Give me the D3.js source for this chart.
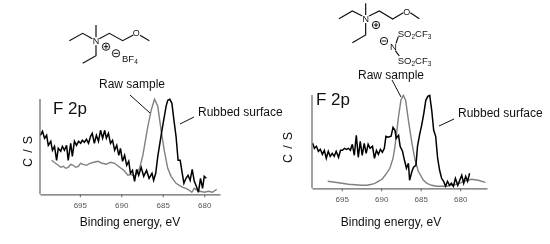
<!DOCTYPE html>
<html>
<head>
<meta charset="utf-8">
<script src="https://cdnjs.cloudflare.com/ajax/libs/d3/7.8.5/d3.min.js"></script>
<style>
body { margin: 0; background: #fff; }
text { font-family: "Liberation Sans", Arial, sans-serif; fill: #111; }
</style>
</head>
<body>
<div id="viz"></div>
<script>
const width = 550;
const height = 244;

const tickValues = [695, 690, 685, 680];

// left panel (binding energy eV, counts in arbitrary units)
const leftRubbedBE = [699.75,699.5,699.25,699,698.8,698.5,698.3,698.05,697.8,697.6,697.3,697.1,696.85,696.6,696.4,696.1,695.9,695.65,695.4,695.15,694.9,694.7,694.45,694.2,693.95,693.7,693.5,693.25,693,692.75,692.5,692.25,692,691.8,691.55,691.3,691.05,690.8,690.55,690.3,690.1,689.85,689.6,689.35,689.1,688.9,688.65,688.4,688.15,687.9,687.6,687.3,686.95,686.65,686.3,686.1,685.85,685.6,685.35,685.1,684.85,684.6,684.4,684.15,683.9,683.65,683.4,683.15,682.9,682.65,682.45,682.2,681.95,681.7,681.45,681.2,680.95,680.7,680.45,680.2,680,679.75];
const leftRubbedCS = [59,63,56,59,49,53,44,48,34,46,43,48,44,49,34,51,38,53,49,53,51,54,52,55,51,58,61,51,59,53,64,56,64,56,61,51,54,44,49,39,46,33,39,29,33,21,24,13,25,19,27,18,24,16,21,14,21,38,51,64,76,88,94,95,91,74,58,34,34,21,11,16,19,14,25,13,8,2,16,6,18,16];
const leftRawBE = [698.4,698.1,697.6,697.3,697,696.7,696.4,696.1,695.8,695.5,695.2,694.9,694.6,694.2,693.8,693.3,692.8,692.3,691.8,691.3,690.8,690.5,690.2,689.7,689.2,688.8,688.4,688.1,687.8,687.4,686.8,686.4,686,685.6,685.2,684.8,684.4,684,683.4,683,682.6,682.2,681.8,681.5,681.2,680.8,680.5,680,679.5,679,678.5];
const leftRawCS = [34,32,29,27,28,26,27,30,29,27,28,31,30,29,31,32,33,31,30,32,31,29,27,24,19,20,18,21,26,39,68,84,95,88,64,43,26,18,11,9,7,6,4,2,6,4,3,2,3,2,5];

// right panel
const rightRubbedBE = [698.67,698.46,698.2,697.95,697.7,697.45,697.2,696.95,696.7,696.45,696.2,695.95,695.7,695.4,695.15,694.9,694.65,694.4,694.15,693.9,693.65,693.4,693.15,692.9,692.65,692.4,692.15,691.9,691.65,691.4,691.1,690.85,690.6,690.35,690.1,689.85,689.6,689.4,689.1,688.75,688.5,688.25,688.1,687.8,687.6,687.3,687.05,686.8,686.55,686.4,686.1,685.9,685.6,685.4,685.1,684.9,684.6,684.35,684.1,683.85,683.6,683.35,683.1,682.85,682.6,682.35,682.1,681.85,681.6,681.35,681.1,680.85,680.6,680.3,680.05,679.8,679.55,679.3,679.05,678.8];
const rightRubbedCS = [45,40,42,37,39,34,38,30,37,32,35,32,37,31,38,38,40,39,40,38,44,33,53,31,47,33,45,35,44,40,42,30,38,34,39,36,40,52,51,52,61,58,50,53,42,37,28,20,25,8,17,21,23,42,55,62,75,88,92,93,78,58,52,30,18,10,7,2,7,3,5,2,10,3,8,13,5,12,7,15];
const rightRawBE = [696.77,695.85,695,694.15,693.3,692.5,691.8,691.2,690.8,690.36,689.9,689.5,688.9,688.5,688.25,687.8,687.5,687.2,686.9,686.55,686.1,685.7,685.3,684.65,684.2,683.6,683,682.35,681.7,681.1,680.4,679.8,679.1,678.55,677.7,676.8];
const rightRawCS = [7,6,5,4,3.5,3,3,4,5,7,9,13,20,30,42,72,88,93,88,68,45,28,17,8,5,3,2,2,2,3,4,6,8,9,8,6];

const panels = [
    { left: 40, right: 220, bottom: 194.3, top: 99, domain: [699.8, 678.1],
      rubbed: [leftRubbedBE, leftRubbedCS], raw: [leftRawBE, leftRawCS],
      titleX: 53, titleY: 114, ylabX: 32, ylabY: 151, tickY: 208, xlabX: 130 },
    { left: 312, right: 487, bottom: 188.3, top: 95, domain: [698.76, 676.6],
      rubbed: [rightRubbedBE, rightRubbedCS], raw: [rightRawBE, rightRawCS],
      titleX: 316, titleY: 105, ylabX: 292, ylabY: 147, tickY: 202, xlabX: 391 }
];

const svg = d3.select('#viz')
    .append('svg')
        .attr('width', width)
        .attr('height', height)
        .style('display', 'block')
        .style('filter', 'blur(0.3px)');

panels.forEach(drawPanel);
drawLabels();
drawMolecule(50, 0, [
    [[58,122],[98,100],[127,116]],
    [[138,75],[138,112]],
    [[148,116],[178,100],[218,122],[250,105]],
    [[270,106],[298,122]],
    [[138,136],[138,167],[98,190]]
], [138,132], [259,109], [168,140], [198,160]);
svg.append('text').attr('x', 50 + 216/3).attr('y', 62).attr('font-size', 9.5).html('BF<tspan font-size="6.5" dy="2">4</tspan>');

drawMolecule(320, 0, [
    [[57,56],[97,33],[127,48]],
    [[137,10],[137,45]],
    [[147,48],[178,33],[218,57],[250,38]],
    [[271,38],[298,56]],
    [[137,69],[137,105],[97,128]],
    [[228,130],[235,110]],
    [[226,152],[238,168]]
], [137,66], [260,44], [168,75], [192,123]);
svg.append('text').attr('x', 320 + 220/3).attr('y', 50).attr('font-size', 9.5).attr('text-anchor', 'middle').text('N');
svg.append('text').attr('x', 320 + 233/3).attr('y', 37).attr('font-size', 9.5).html('SO<tspan font-size="6.5" dy="2">2</tspan><tspan dy="-2">CF</tspan><tspan font-size="6.5" dy="2">3</tspan>');
svg.append('text').attr('x', 320 + 233/3).attr('y', 64).attr('font-size', 9.5).html('SO<tspan font-size="6.5" dy="2">2</tspan><tspan dy="-2">CF</tspan><tspan font-size="6.5" dy="2">3</tspan>');

function drawPanel(p) {
    const xScale = d3.scaleLinear().domain(p.domain).range([p.left, p.right]);
    const yScale = d3.scaleLinear().domain([0, 100]).range([p.bottom, p.bottom - 100]);

    const line = d3.line().x(d => xScale(d[0])).y(d => yScale(d[1]));

    svg.append('path')
        .datum(p.raw[0].map((v, i) => [v, p.raw[1][i]]))
        .attr('d', line)
        .attr('fill', 'none')
        .attr('stroke', '#808080')
        .attr('stroke-width', 1.4);

    svg.append('path')
        .datum(p.rubbed[0].map((v, i) => [v, p.rubbed[1][i]]))
        .attr('d', line)
        .attr('fill', 'none')
        .attr('stroke', '#000')
        .attr('stroke-width', 1.5);

    const xAxis = svg.append('g')
        .attr('transform', `translate(0, ${p.bottom})`)
        .call(d3.axisBottom(xScale).tickValues(tickValues).tickSize(3).tickSizeOuter(0));
    xAxis.select('.domain').attr('stroke', '#666').attr('stroke-width', 1.2);
    xAxis.selectAll('.tick line').attr('stroke', '#666');
    xAxis.selectAll('.tick text')
        .attr('y', p.tickY - p.bottom - 5.6)
        .attr('font-family', '"Liberation Sans", Arial, sans-serif')
        .attr('font-size', 8)
        .style('fill', '#555');

    svg.append('line')
        .attr('x1', p.left).attr('x2', p.left)
        .attr('y1', p.top).attr('y2', p.bottom)
        .attr('stroke', '#666').attr('stroke-width', 1.2);

    svg.append('text').attr('x', p.titleX).attr('y', p.titleY).attr('font-size', 17).text('F 2p');
    svg.append('text')
        .attr('transform', `translate(${p.ylabX}, ${p.ylabY}) rotate(-90)`)
        .attr('text-anchor', 'middle')
        .attr('font-size', 12.5)
        .attr('letter-spacing', 0.8)
        .text('C / S');
    svg.append('text')
        .attr('x', p.xlabX).attr('y', 226)
        .attr('text-anchor', 'middle')
        .attr('font-size', 12)
        .text('Binding energy, eV');
}

function drawLabels() {
    const labels = [
        ['Raw sample', 99, 88],
        ['Rubbed surface', 198, 116],
        ['Raw sample', 358, 79],
        ['Rubbed surface', 458, 117]
    ];
    svg.selectAll('text.callout').data(labels).join('text')
        .attr('class', 'callout')
        .attr('x', d => d[1]).attr('y', d => d[2])
        .attr('font-size', 12)
        .text(d => d[0]);

    const leaders = [
        [130, 95, 150, 113],
        [180, 124, 194, 117],
        [392, 80, 401, 97],
        [439, 126, 454, 119]
    ];
    svg.selectAll('line.leader').data(leaders).join('line')
        .attr('class', 'leader')
        .attr('x1', d => d[0]).attr('y1', d => d[1])
        .attr('x2', d => d[2]).attr('y2', d => d[3])
        .attr('stroke', '#111');
}

// bonds are given in the 3x crop units, hence the scale
function drawMolecule(ox, oy, bonds, nPos, oPos, plus, minus) {
    const g = svg.append('g').attr('transform', `translate(${ox}, ${oy}) scale(${1/3})`);
    const bondLine = d3.line();
    bonds.forEach(b => {
        g.append('path').attr('d', bondLine(b)).attr('fill', 'none').attr('stroke', '#111').attr('stroke-width', 3.6);
    });
    g.append('text').attr('x', nPos[0]).attr('y', nPos[1]).attr('text-anchor', 'middle').attr('font-size', 27).text('N');
    g.append('text').attr('x', oPos[0]).attr('y', oPos[1]).attr('text-anchor', 'middle').attr('font-size', 27).text('O');
    [plus, minus].forEach((c, i) => {
        g.append('circle').attr('cx', c[0]).attr('cy', c[1]).attr('r', 11).attr('fill', 'none').attr('stroke', '#111').attr('stroke-width', 3);
        g.append('line').attr('x1', c[0] - 7).attr('x2', c[0] + 7).attr('y1', c[1]).attr('y2', c[1]).attr('stroke', '#111').attr('stroke-width', 3);
        if (i === 0) {
            g.append('line').attr('x1', c[0]).attr('x2', c[0]).attr('y1', c[1] - 7).attr('y2', c[1] + 7).attr('stroke', '#111').attr('stroke-width', 3);
        }
    });
}
</script>
</body>
</html>
